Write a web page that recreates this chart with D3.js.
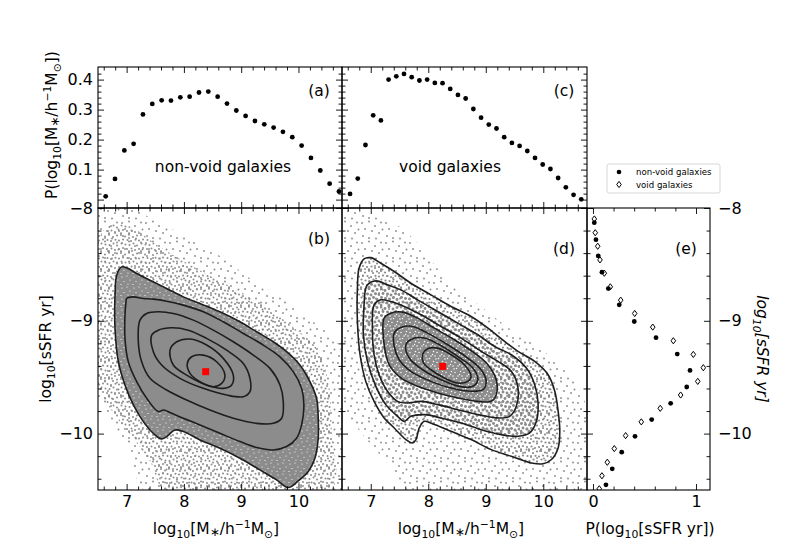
<!DOCTYPE html>
<html><head><meta charset="utf-8">
<script src="https://cdn.jsdelivr.net/npm/d3@7"></script>
<style>
body{margin:0;background:#fff;}
text{font-family:"DejaVu Sans",sans-serif;}
</style></head>
<body><svg id="c" width="789" height="552"></svg>
<script>
// ---------------- DATA ----------------
const massNonVoid = [6.634,6.797,6.960,7.122,7.285,7.448,7.611,7.774,7.937,8.100,8.263,8.426,8.589,8.752,8.915,9.077,9.240,9.403,9.566,9.729,9.892,10.055,10.218,10.381,10.544,10.707];
const probMassNonVoid = [0.011,0.069,0.164,0.186,0.284,0.319,0.331,0.330,0.341,0.343,0.357,0.360,0.343,0.320,0.297,0.279,0.262,0.251,0.240,0.226,0.208,0.180,0.139,0.097,0.053,0.027];

const massVoid = [6.640,6.774,6.908,7.042,7.176,7.310,7.444,7.578,7.712,7.846,7.980,8.114,8.248,8.382,8.516,8.650,8.784,8.918,9.052,9.186,9.320,9.454,9.588,9.722,9.856,9.990,10.124,10.258,10.392,10.526,10.660];
const probMassVoid = [0.019,0.070,0.182,0.281,0.264,0.400,0.411,0.419,0.408,0.397,0.400,0.389,0.388,0.369,0.349,0.337,0.302,0.273,0.250,0.237,0.208,0.189,0.179,0.162,0.139,0.117,0.102,0.072,0.041,0.016,0.001];

const ssfrNonVoid = [-8.130,-8.281,-8.425,-8.569,-8.714,-8.858,-9.006,-9.150,-9.295,-9.440,-9.587,-9.732,-9.876,-10.024,-10.165,-10.312,-10.454];
const probSsfrNonVoid = [0.013,0.029,0.051,0.087,0.149,0.255,0.401,0.612,0.818,0.942,0.910,0.754,0.570,0.408,0.279,0.187,0.126];

const ssfrVoid = [-8.097,-8.219,-8.339,-8.460,-8.578,-8.699,-8.817,-8.935,-9.056,-9.177,-9.298,-9.416,-9.537,-9.658,-9.776,-9.896,-10.018,-10.133,-10.254,-10.374,-10.489];
const probSsfrVoid = [0.013,0.022,0.046,0.068,0.110,0.168,0.269,0.405,0.580,0.780,0.974,1.071,1.017,0.851,0.653,0.469,0.317,0.207,0.139,0.087,0.061];

const medianNonVoid = [8.38,-9.451];
const medianVoid = [8.251,-9.404];

// density contours (mass, sSFR) vertices, outer -> inner
const contoursNonVoid = [
 [[6.913,-8.522],[7.029,-8.537],[7.175,-8.581],[7.408,-8.640],[7.698,-8.714],[7.989,-8.788],[8.280,-8.847],[8.629,-8.920],[8.978,-9.009],[9.269,-9.097],[9.560,-9.186],[9.793,-9.274],[10.025,-9.392],[10.200,-9.540],[10.316,-9.687],[10.345,-9.864],[10.345,-10.041],[10.287,-10.218],[10.171,-10.336],[9.996,-10.420],[9.822,-10.478],[9.618,-10.410],[9.327,-10.322],[8.978,-10.218],[8.629,-10.130],[8.280,-10.056],[7.989,-9.982],[7.844,-9.968],[7.698,-10.027],[7.611,-10.047],[7.495,-10.012],[7.291,-9.894],[7.117,-9.746],[6.971,-9.569],[6.855,-9.363],[6.797,-9.068],[6.797,-8.773],[6.826,-8.596]],
 [[7.000,-8.802],[7.117,-8.788],[7.291,-8.802],[7.466,-8.808],[7.698,-8.826],[7.989,-8.861],[8.338,-8.920],[8.687,-9.009],[9.037,-9.112],[9.385,-9.215],[9.677,-9.319],[9.909,-9.451],[10.055,-9.599],[10.095,-9.746],[10.055,-9.923],[9.967,-10.041],[9.793,-10.115],[9.560,-10.145],[9.269,-10.124],[8.978,-10.071],[8.629,-9.997],[8.280,-9.923],[7.989,-9.864],[7.786,-9.820],[7.640,-9.791],[7.553,-9.805],[7.349,-9.687],[7.175,-9.540],[7.029,-9.363],[6.971,-9.156],[6.971,-8.950],[6.989,-8.832]],
 [[7.233,-8.994],[7.349,-8.935],[7.553,-8.920],[7.815,-8.935],[8.164,-8.994],[8.513,-9.083],[8.862,-9.186],[9.211,-9.304],[9.502,-9.422],[9.677,-9.569],[9.735,-9.717],[9.706,-9.864],[9.560,-9.909],[9.269,-9.909],[8.862,-9.864],[8.455,-9.791],[8.047,-9.702],[7.698,-9.614],[7.408,-9.510],[7.262,-9.363],[7.204,-9.186]],
 [[7.437,-9.127],[7.553,-9.083],[7.786,-9.062],[8.076,-9.083],[8.396,-9.156],[8.745,-9.260],[9.037,-9.378],[9.153,-9.510],[9.153,-9.628],[9.037,-9.673],[8.745,-9.658],[8.338,-9.599],[7.931,-9.510],[7.611,-9.392],[7.466,-9.274]],
 [[7.757,-9.260],[7.873,-9.186],[8.106,-9.162],[8.396,-9.215],[8.687,-9.333],[8.862,-9.481],[8.833,-9.569],[8.687,-9.599],[8.396,-9.569],[8.047,-9.481],[7.815,-9.392]],
 [[8.059,-9.378],[8.135,-9.319],[8.338,-9.304],[8.571,-9.363],[8.716,-9.481],[8.658,-9.555],[8.513,-9.584],[8.280,-9.540],[8.106,-9.466]]
];
const contoursVoid = [
 [[6.884,-8.451],[7.000,-8.440],[7.175,-8.490],[7.408,-8.563],[7.698,-8.667],[8.047,-8.770],[8.396,-8.873],[8.745,-8.962],[9.037,-9.065],[9.327,-9.183],[9.560,-9.271],[9.851,-9.360],[10.084,-9.478],[10.200,-9.625],[10.258,-9.802],[10.287,-9.979],[10.258,-10.127],[10.142,-10.230],[9.996,-10.268],[9.793,-10.260],[9.444,-10.201],[9.095,-10.142],[8.745,-10.053],[8.396,-9.979],[8.106,-9.920],[7.931,-9.891],[7.844,-9.950],[7.786,-10.053],[7.727,-10.083],[7.611,-10.053],[7.408,-9.950],[7.233,-9.861],[7.058,-9.714],[6.913,-9.537],[6.814,-9.301],[6.768,-9.006],[6.768,-8.711],[6.797,-8.534]],
 [[6.942,-8.681],[7.088,-8.646],[7.291,-8.681],[7.524,-8.726],[7.815,-8.814],[8.164,-8.917],[8.513,-9.021],[8.862,-9.124],[9.153,-9.227],[9.444,-9.301],[9.706,-9.419],[9.851,-9.566],[9.909,-9.729],[9.880,-9.891],[9.764,-9.994],[9.560,-10.024],[9.269,-10.009],[8.920,-9.965],[8.571,-9.906],[8.222,-9.861],[7.931,-9.832],[7.698,-9.847],[7.582,-9.891],[7.466,-9.847],[7.262,-9.743],[7.088,-9.581],[6.942,-9.360],[6.872,-9.124],[6.884,-8.858],[6.907,-8.726]],
 [[7.058,-8.858],[7.175,-8.814],[7.349,-8.829],[7.582,-8.873],[7.873,-8.947],[8.222,-9.050],[8.571,-9.153],[8.920,-9.271],[9.211,-9.360],[9.444,-9.448],[9.560,-9.596],[9.531,-9.758],[9.415,-9.847],[9.211,-9.861],[8.862,-9.832],[8.513,-9.788],[8.164,-9.743],[7.873,-9.714],[7.640,-9.729],[7.466,-9.714],[7.291,-9.625],[7.146,-9.478],[7.058,-9.301],[7.029,-9.065]],
 [[7.233,-8.976],[7.349,-8.932],[7.553,-8.923],[7.815,-8.976],[8.106,-9.065],[8.455,-9.168],[8.804,-9.286],[9.037,-9.389],[9.182,-9.522],[9.182,-9.655],[9.095,-9.714],[8.862,-9.714],[8.513,-9.684],[8.164,-9.640],[7.815,-9.581],[7.524,-9.507],[7.320,-9.389],[7.233,-9.212]],
 [[7.408,-9.109],[7.524,-9.059],[7.727,-9.050],[7.989,-9.109],[8.338,-9.212],[8.687,-9.330],[8.920,-9.434],[9.007,-9.537],[8.949,-9.611],[8.745,-9.625],[8.396,-9.596],[8.047,-9.537],[7.698,-9.448],[7.495,-9.345],[7.408,-9.227]],
 [[7.611,-9.212],[7.727,-9.159],[7.931,-9.153],[8.193,-9.212],[8.513,-9.316],[8.775,-9.419],[8.862,-9.522],[8.775,-9.581],[8.542,-9.581],[8.222,-9.522],[7.902,-9.434],[7.669,-9.330]],
 [[7.902,-9.301],[7.989,-9.248],[8.164,-9.242],[8.396,-9.301],[8.629,-9.389],[8.745,-9.493],[8.687,-9.537],[8.513,-9.552],[8.280,-9.507],[8.047,-9.434],[7.919,-9.375]]
];

// outlines of the scattered galaxy cloud (sparse halo and medium-density zone)
const cloudHaloNonVoid = [[6.48,-8.00],[7.058,-8.00],[7.524,-8.121],[8.106,-8.268],[8.687,-8.445],[9.153,-8.622],[9.618,-8.770],[10.083,-8.947],[10.549,-9.124],[10.78,-9.301],[10.80,-10.52],[7.349,-10.52],[7.058,-10.186],[6.709,-9.891],[6.48,-9.655]];
const cloudMidNonVoid = [[6.48,-8.327],[6.709,-8.150],[7.058,-8.165],[7.524,-8.327],[8.106,-8.504],[8.804,-8.696],[9.385,-8.858],[9.851,-9.035],[10.316,-9.242],[10.520,-9.537],[10.578,-9.950],[10.549,-10.52],[7.698,-10.52],[7.408,-10.245],[7.058,-10.009],[6.709,-9.773],[6.48,-9.537]];
const cloudHaloVoid = [[6.48,-8.032],[6.96,-8.062],[7.541,-8.18],[8.414,-8.681],[8.879,-8.858],[9.403,-9.065],[9.868,-9.212],[10.334,-9.419],[10.683,-9.655],[10.80,-10.52],[7.716,-10.52],[7.25,-10.239],[6.843,-10.0],[6.48,-9.714]];

// ticks
const massTicks = [7,8,9,10];
const massMinor = d3.range(6.6,10.75,0.2).filter(v=>Math.abs(v-Math.round(v))>1e-6);
const ssfrTicks = [-8,-9,-10];
const ssfrMinor = d3.range(-8.2,-10.55,-0.2).filter(v=>Math.abs(v-Math.round(v))>1e-6);
const probMassTicks = [0,0.1,0.2,0.3,0.4];
const probMassMinor = d3.range(0.02,0.44,0.02).filter(v=>Math.abs(v*10-Math.round(v*10))>1e-6);
const probSsfrTicks = [0,1];
const probSsfrMinor = [0.2,0.4,0.6,0.8];

// ---------------- DRAWING ----------------
const svg = d3.select("#c");
const defs = svg.append("defs");
const GREY = "#8c8c8c";
const FS = 15.5;

const xB = d3.scaleLinear().domain([6.5,10.76]).range([98,342]);
const xD = d3.scaleLinear().domain([6.5,10.76]).range([342,587]);
const xE = d3.scaleLinear().domain([-0.058,1.136]).range([587,710]);
const yS = d3.scaleLinear().domain([-8,-10.5]).range([208,490]);
const yP = d3.scaleLinear().domain([-0.028,0.442]).range([208,67]);

const ext = s => { const r = s.range(); return [Math.min(r[0],r[1]), Math.max(r[0],r[1])]; };

// stipple fills used to render the point cloud density
function pat(id,w,h,bg,dots,col,r){
  const p = defs.append("pattern").attr("id",id).attr("patternUnits","userSpaceOnUse").attr("width",w).attr("height",h);
  if(bg) p.append("rect").attr("width",w).attr("height",h).attr("fill",bg);
  dots.forEach(([cx,cy])=>p.append("circle").attr("cx",cx).attr("cy",cy).attr("r",r).attr("fill",col));
}
const sparseDots = [[2,3],[9,1.5],[15,6],[21,2.5],[5,9],[12,11],[19,13],[3,16],[9,18],[16,18.5],[22.5,9.5]];
const midDots = [[1,1],[5,2.5],[9,0.8],[13,3],[17,1.5],[3,5.5],[7.5,6],[11,7],[15.5,5.8],[19,6.5],[1.5,9.5],[5.5,10.5],[9.5,11],[13.5,9.5],[17,11.5],[3,14],[7,15],[11.5,14.5],[15,16],[19,15],[1,17.3],[9,17.3]];
const speckDots = [[2,2],[7,1],[10,5],[4,6.5],[8,9],[1,9.5]];
const lightSpeck = [[1.5,1.5],[5,2.5],[8,6],[3,6],[6.5,8.5],[0.5,4.5],[4,9]];
pat("sparse",24,20,null,sparseDots,GREY,0.95);
pat("mid",20,18,null,midDots,GREY,1.0);
pat("dense",12,11,GREY,speckDots,"#fff",0.6);
pat("dmid",20,18,null,midDots,GREY,1.1);
pat("dmid2",20,18,null,midDots,GREY,1.45);
pat("ddense",9,10,GREY,lightSpeck,"#fff",0.75);

function clip(id,x,y){
  const [L,R] = ext(x), [T,B] = ext(y);
  defs.append("clipPath").attr("id",id).append("rect").attr("x",L).attr("y",T).attr("width",R-L).attr("height",B-T);
  return svg.append("g").attr("clip-path",`url(#${id})`);
}
const closed = (x,y)=>d3.line().x(d=>x(d[0])).y(d=>y(d[1])).curve(d3.curveCatmullRomClosed.alpha(0.5));

// panel b
const gB = clip("cb",xB,yS);
const lB = closed(xB,yS);
gB.append("path").attr("d",lB(cloudHaloNonVoid)).attr("fill","url(#sparse)");
gB.append("path").attr("d",lB(cloudMidNonVoid)).attr("fill","url(#mid)");
gB.append("path").attr("d",lB(contoursNonVoid[0])).attr("fill","url(#dense)");
gB.append("path").attr("d",lB(contoursNonVoid[1])).attr("fill",GREY);
gB.selectAll("path.ct").data(contoursNonVoid).join("path").attr("class","ct")
  .attr("d",lB).attr("fill","none").attr("stroke","#1e1e1e").attr("stroke-width",1.6);
gB.append("rect").attr("x",xB(medianNonVoid[0])-3.5).attr("y",yS(medianNonVoid[1])-3.5).attr("width",7).attr("height",7).attr("fill","#ff0000");

// panel d
const gD = clip("cd",xD,yS);
const lD = closed(xD,yS);
gD.append("path").attr("d",lD(cloudHaloVoid)).attr("fill","url(#sparse)");
gD.append("path").attr("d",lD(contoursVoid[0])).attr("fill","url(#dmid)");
gD.append("path").attr("d",lD(contoursVoid[1])).attr("fill","url(#dmid2)");
gD.append("path").attr("d",lD(contoursVoid[3])).attr("fill","url(#ddense)");
gD.selectAll("path.ct").data(contoursVoid).join("path").attr("class","ct")
  .attr("d",lD).attr("fill","none").attr("stroke","#1e1e1e").attr("stroke-width",1.6);
gD.append("rect").attr("x",xD(medianVoid[0])-3.5).attr("y",yS(medianVoid[1])-3.5).attr("width",7).attr("height",7).attr("fill","#ff0000");

// panel a, c
const gA = clip("ca",xB,yP);
gA.selectAll("circle").data(massNonVoid).join("circle")
  .attr("cx",d=>xB(d)).attr("cy",(d,i)=>yP(probMassNonVoid[i])).attr("r",2.4).attr("fill","#000");
const gC = clip("cc",xD,yP);
gC.selectAll("circle").data(massVoid).join("circle")
  .attr("cx",d=>xD(d)).attr("cy",(d,i)=>yP(probMassVoid[i])).attr("r",2.4).attr("fill","#000");

// panel e
const diamond = "M0,-3.1L2.3,0L0,3.1L-2.3,0Z";
const gE = clip("ce",xE,yS);
gE.selectAll("path.dv").data(ssfrVoid).join("path").attr("class","dv")
  .attr("transform",(d,i)=>`translate(${xE(probSsfrVoid[i])},${yS(d)})`).attr("d",diamond)
  .attr("fill","#fff").attr("stroke","#000").attr("stroke-width",1);
gE.selectAll("circle").data(ssfrNonVoid).join("circle")
  .attr("cx",(d,i)=>xE(probSsfrNonVoid[i])).attr("cy",d=>yS(d)).attr("r",2.4).attr("fill","#000");

// axes
function axes(x,y,o){
  const [L,R] = ext(x), [T,B] = ext(y);
  const none = ()=>"";
  const sides = [
    {ax:d3.axisBottom,t:`translate(0,${B})`,s:x,maj:o.xMaj,min:o.xMin,lab:o.bottomLab,pad:6},
    {ax:d3.axisTop,t:`translate(0,${T})`,s:x,maj:o.xMaj,min:o.xMin,lab:null,pad:3},
    {ax:d3.axisLeft,t:`translate(${L},0)`,s:y,maj:o.yMaj,min:o.yMin,lab:o.leftLab,pad:5},
    {ax:d3.axisRight,t:`translate(${R},0)`,s:y,maj:o.yMaj,min:o.yMin,lab:o.rightLab,pad:8}
  ];
  sides.forEach(sd=>{
    const g = svg.append("g").attr("transform",sd.t);
    g.call(sd.ax(sd.s).tickValues(sd.maj).tickSize(-6).tickPadding(sd.pad).tickFormat(sd.lab||none));
    g.append("g").call(sd.ax(sd.s).tickValues(sd.min).tickSize(-3.5).tickFormat(none));
    g.selectAll(".domain").remove();
    g.selectAll("line").attr("stroke","#000").attr("stroke-width",0.9);
    g.selectAll("text").attr("font-size",16).attr("font-family","DejaVu Sans").attr("fill","#000");
  });
  svg.append("rect").attr("x",L).attr("y",T).attr("width",R-L).attr("height",B-T)
    .attr("fill","none").attr("stroke","#000").attr("stroke-width",1.1);
}
const fInt = d3.format("d");
const fP = v=> v===0 ? "" : d3.format(".1f")(v);
axes(xB,yP,{xMaj:massTicks,xMin:massMinor,yMaj:probMassTicks,yMin:probMassMinor,leftLab:fP});
axes(xD,yP,{xMaj:massTicks,xMin:massMinor,yMaj:probMassTicks,yMin:probMassMinor});
axes(xB,yS,{xMaj:massTicks,xMin:massMinor,yMaj:ssfrTicks,yMin:ssfrMinor,leftLab:fInt,bottomLab:fInt});
axes(xD,yS,{xMaj:massTicks,xMin:massMinor,yMaj:ssfrTicks,yMin:ssfrMinor,bottomLab:fInt});
axes(xE,yS,{xMaj:probSsfrTicks,xMin:probSsfrMinor,yMaj:ssfrTicks,yMin:ssfrMinor,rightLab:fInt,bottomLab:fInt});

// texts
function rich(parts,attrs){
  const t = svg.append("text");
  Object.entries(attrs).forEach(([k,v])=>t.attr(k,v));
  parts.forEach(p=>{
    const s = t.append("tspan").text(p[0]);
    if(p[1]==="sub") s.attr("font-size","10.8px").attr("baseline-shift","-3.5px");
    if(p[1]==="ast") s.attr("font-size","12px").attr("baseline-shift","-1.5px");
    if(p[1]==="sup") s.attr("font-size","10.8px").attr("baseline-shift","6px");
  });
  return t;
}
const massLabel = [["log"],["10","sub"],["[M"],["∗","ast"],["/h"],["−1","sup"],["M"],["⊙","sub"],["]"]];
const base = {"font-size":FS,"fill":"#000","text-anchor":"middle"};
rich(massLabel,{...base,x:216,y:534});
rich(massLabel,{...base,x:461,y:534});
rich([["P(log"],["10","sub"],["[sSFR yr])"]],{...base,x:650,y:534});
rich([["P(log"],["10","sub"],["[M"],["∗","ast"],["/h"],["−1","sup"],["M"],["⊙","sub"],["])"]],{...base,transform:"translate(57,125) rotate(-90)"});
rich([["log"],["10","sub"],["[sSFR yr]"]],{...base,transform:"translate(51,349) rotate(-90)"});
rich([["log"],["10","sub"],["[sSFR yr]"]],{...base,"font-style":"italic",transform:"translate(757,349) rotate(90)"});

const panelLabels = [["(a)",319,90],["(b)",319,238],["(c)",564,90],["(d)",564,248],["(e)",686,248]];
panelLabels.forEach(([t,x,y])=>svg.append("text").text(t).attr("x",x).attr("y",y).attr("dy","0.36em")
  .attr("font-size",FS).attr("text-anchor","middle"));
svg.append("text").text("non-void galaxies").attr("x",223).attr("y",166).attr("dy","0.36em").attr("font-size",FS).attr("text-anchor","middle");
svg.append("text").text("void galaxies").attr("x",450).attr("y",166).attr("dy","0.36em").attr("font-size",FS).attr("text-anchor","middle");

// legend
const lg = svg.append("g");
lg.append("rect").attr("x",607).attr("y",164).attr("width",113).attr("height",29).attr("rx",2)
  .attr("fill","#fff").attr("stroke","#cccccc").attr("stroke-width",0.8);
lg.append("circle").attr("cx",619).attr("cy",172).attr("r",2.3).attr("fill","#000");
lg.append("path").attr("d",diamond).attr("transform","translate(619,184.5)").attr("fill","#fff").attr("stroke","#000");
lg.append("text").text("non-void galaxies").attr("x",636).attr("y",172).attr("dy","0.35em").attr("font-size",8.6);
lg.append("text").text("void galaxies").attr("x",636).attr("y",184.5).attr("dy","0.35em").attr("font-size",8.6);
</script>
</body></html>
